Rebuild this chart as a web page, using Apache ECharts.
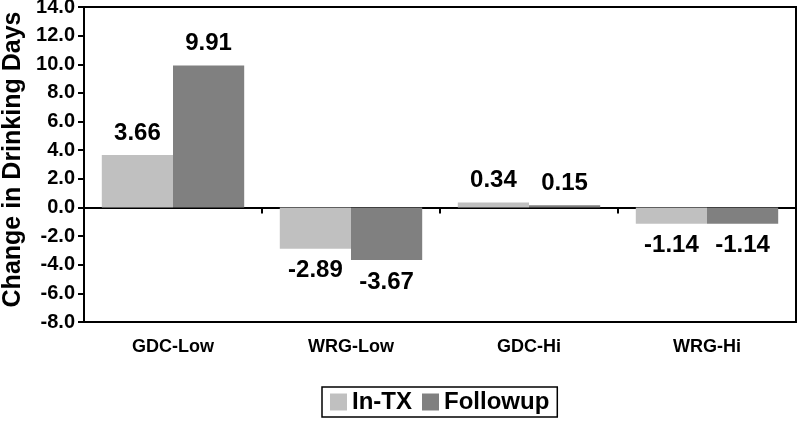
<!DOCTYPE html>
<html><head><meta charset="utf-8">
<script src="https://cdn.jsdelivr.net/npm/echarts@6/dist/echarts.min.js"></script>
<style>html,body{margin:0;padding:0;background:#fff}#c{width:800px;height:424px}</style>
</head><body><div id="c"></div>
<script>
const categories = ['GDC-Low', 'WRG-Low', 'GDC-Hi', 'WRG-Hi'];
const inTx = [3.66, -2.89, 0.34, -1.14];
const followup = [9.91, -3.67, 0.15, -1.14];
const seriesNames = ['In-TX', 'Followup'];
const yTicks = {min: -8, max: 14, interval: 2};

const font = 'Liberation Sans, Arial, sans-serif';
function mk(vals){
  return vals.map(v => ({value: v, label: {position: v < 0 ? 'bottom' : 'top'}}));
}
const labelStyle = {show: true, distance: 10, fontFamily: font, fontWeight: 'bold', fontSize: 24, color: '#000',
  formatter: p => p.value.toFixed(2)};
const chart = echarts.init(document.getElementById('c'), null, {renderer: 'canvas'});
chart.setOption({
  animation: false,
  backgroundColor: '#fff',
  grid: {left: 84, top: 7, right: 4, bottom: 102, show: true, borderColor: '#000', borderWidth: 2,
    containLabel: false, outerBoundsMode: 'none'},
  legend: {
    data: seriesNames, left: 322, top: 387, width: 240, height: 31,
    padding: [3, 8, 3, 8], itemGap: 10,
    borderColor: '#000', borderWidth: 1.5, itemWidth: 17, itemHeight: 17, icon: 'rect',
    textStyle: {fontFamily: font, fontWeight: 'bold', fontSize: 24, color: '#000'}
  },
  xAxis: [{
    type: 'category', data: categories, position: 'bottom',
    axisLine: {show: false, onZero: false}, axisTick: {show: false},
    axisLabel: {fontFamily: font, fontWeight: 'bold', fontSize: 18, color: '#000', margin: 16}
  }, {
    type: 'category', data: categories, position: 'top',
    axisLine: {show: true, onZero: true, lineStyle: {color: '#000', width: 2}},
    axisTick: {show: true, inside: true, length: 6, lineStyle: {color: '#000', width: 2}},
    axisLabel: {show: false}
  }],
  yAxis: {
    type: 'value', min: yTicks.min, max: yTicks.max, interval: yTicks.interval,
    name: 'Change in Drinking Days', nameLocation: 'middle', nameGap: 56, nameRotate: 90,
    nameTextStyle: {fontFamily: font, fontWeight: 'bold', fontSize: 25, color: '#000', padding: [0, 0, 0, 10]},
    axisLine: {show: true, lineStyle: {color: '#000', width: 2}},
    axisTick: {show: true, length: 6, lineStyle: {color: '#000', width: 2}},
    splitLine: {show: false},
    axisLabel: {fontFamily: font, fontWeight: 'bold', fontSize: 20, color: '#000', margin: 9,
      formatter: v => v.toFixed(1)}
  },
  series: [
    {name: seriesNames[0], type: 'bar', data: mk(inTx), itemStyle: {color: '#c0c0c0'},
     barGap: '0%', barCategoryGap: '20%', label: labelStyle},
    {name: seriesNames[1], type: 'bar', data: mk(followup), itemStyle: {color: '#808080'},
     barGap: '0%', barCategoryGap: '20%', label: labelStyle}
  ]
});
</script></body></html>
